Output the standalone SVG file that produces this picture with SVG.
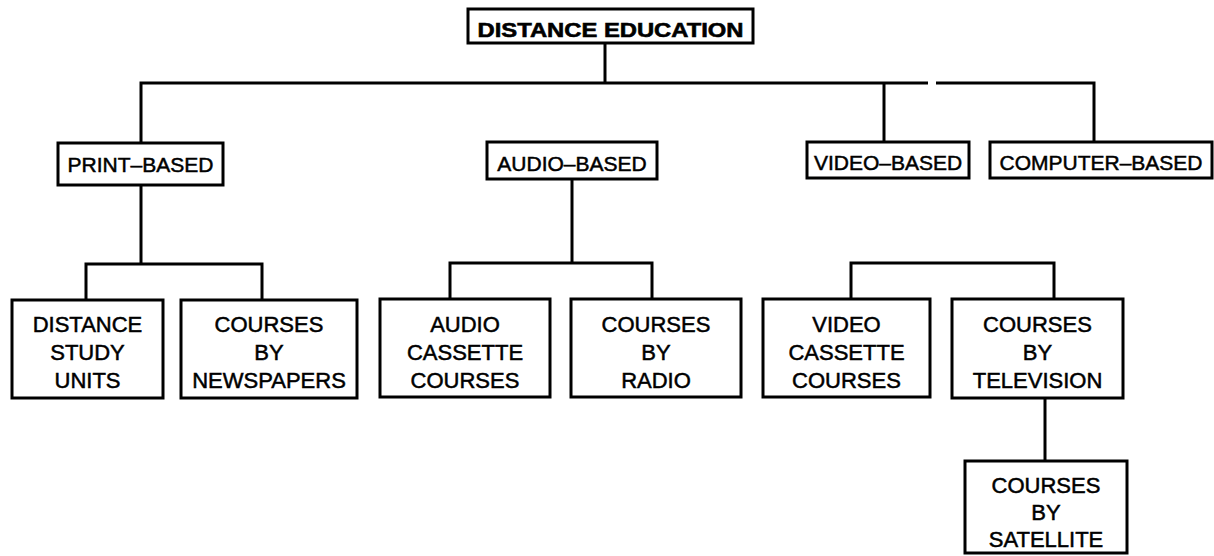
<svg xmlns="http://www.w3.org/2000/svg" width="1214" height="556" viewBox="0 0 1214 556">
<style>
rect{fill:#fff;stroke:#000;stroke-width:3}
.c path{fill:none;stroke:#000;stroke-width:3}
text{font-family:"Liberation Sans",Arial,Helvetica,sans-serif;fill:#000;text-anchor:middle;stroke:#000;stroke-width:0.5}
.t{font-size:21px;font-weight:bold;stroke-width:0.6}
.m{font-size:21px}
.l{font-size:22px}
</style>
<rect x="0" y="0" width="1214" height="556" style="fill:#fff;stroke:none"/>
<g class="c" id="connectors">
<path d="M605,43 V83"/>
<path d="M141,143 V83 H928"/>
<path d="M936,83 H1094 V142"/>
<path d="M884,83 V142"/>
<path d="M141,185 V264"/>
<path d="M86,300 V264 H262 V300"/>
<path d="M572,179 V263"/>
<path d="M450,299 V263 H652 V299"/>
<path d="M851,299 V263 H1054 V299"/>
<path d="M1045,398 V461"/>
</g>
<g id="distance-education"><rect x="468" y="9" width="285" height="34"/><text class="t" x="610.5" y="37" textLength="266" lengthAdjust="spacingAndGlyphs">DISTANCE EDUCATION</text></g>
<g id="print-based"><rect x="58" y="143" width="165" height="42"/><text class="m" x="140.5" y="172">PRINT–BASED</text></g>
<g id="audio-based"><rect x="487" y="142" width="170" height="37"/><text class="m" x="572" y="171">AUDIO–BASED</text></g>
<g id="video-based"><rect x="807" y="142" width="162" height="36"/><text class="m" x="888" y="170">VIDEO–BASED</text></g>
<g id="computer-based"><rect x="990" y="142" width="222" height="36"/><text class="m" x="1101" y="170">COMPUTER–BASED</text></g>
<g id="distance-study-units"><rect x="12" y="300" width="151" height="98"/><text class="l" x="87.5"><tspan x="87.5" y="332">DISTANCE</tspan><tspan x="87.5" y="360">STUDY</tspan><tspan x="87.5" y="388">UNITS</tspan></text></g>
<g id="courses-by-newspapers"><rect x="181" y="300" width="176" height="98"/><text class="l" x="269"><tspan x="269" y="332">COURSES</tspan><tspan x="269" y="360">BY</tspan><tspan x="269" y="388">NEWSPAPERS</tspan></text></g>
<g id="audio-cassette-courses"><rect x="380" y="299" width="170" height="98"/><text class="l" x="465"><tspan x="465" y="332">AUDIO</tspan><tspan x="465" y="360">CASSETTE</tspan><tspan x="465" y="388">COURSES</tspan></text></g>
<g id="courses-by-radio"><rect x="571" y="299" width="170" height="98"/><text class="l" x="656"><tspan x="656" y="332">COURSES</tspan><tspan x="656" y="360">BY</tspan><tspan x="656" y="388">RADIO</tspan></text></g>
<g id="video-cassette-courses"><rect x="763" y="299" width="167" height="98"/><text class="l" x="846.5"><tspan x="846.5" y="332">VIDEO</tspan><tspan x="846.5" y="360">CASSETTE</tspan><tspan x="846.5" y="388">COURSES</tspan></text></g>
<g id="courses-by-television"><rect x="952" y="299" width="171" height="99"/><text class="l" x="1037.5"><tspan x="1037.5" y="332">COURSES</tspan><tspan x="1037.5" y="360">BY</tspan><tspan x="1037.5" y="388">TELEVISION</tspan></text></g>
<g id="courses-by-satellite"><rect x="965" y="461" width="162" height="92"/><text class="l" x="1046"><tspan x="1046" y="493">COURSES</tspan><tspan x="1046" y="520">BY</tspan><tspan x="1046" y="547">SATELLITE</tspan></text></g>
</svg>
